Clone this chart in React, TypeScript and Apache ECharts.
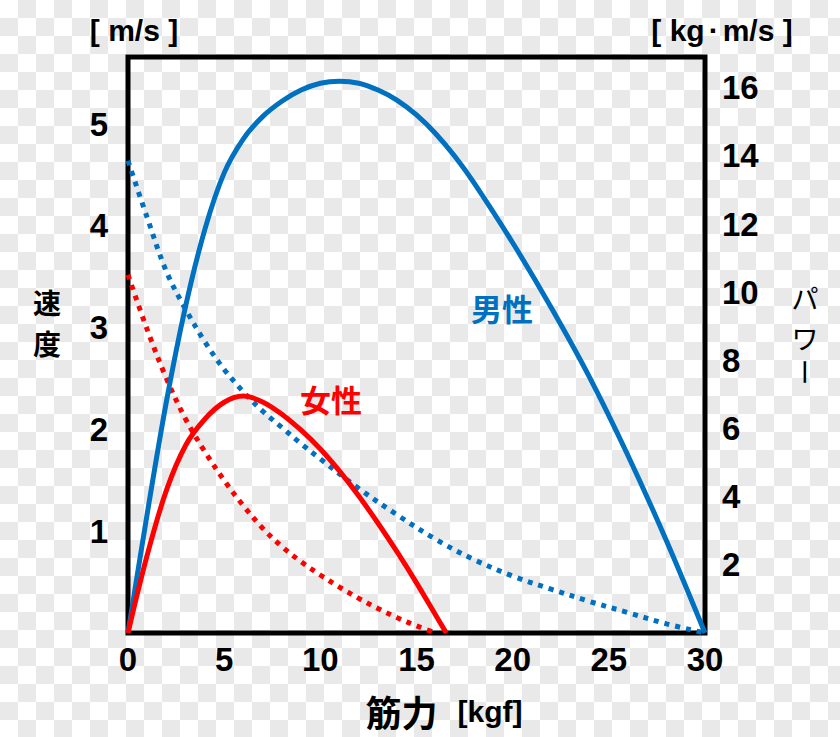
import React, { useEffect, useRef } from "react";
import * as echarts from "echarts";

// x = 筋力 [kgf]
const xTicks = [0, 5, 10, 15, 20, 25, 30];
// 男性 パワー (right axis, kg·m/s)
const malePowerX = [0, 1, 2, 3, 4, 5, 6, 7, 8, 9, 10, 11, 12, 13, 14, 15, 16, 17, 18, 20, 22, 24, 26, 28, 30];
const malePowerY = [0, 3.5, 6.8, 9.6, 11.85, 13.5, 14.5, 15.15, 15.6, 15.93, 16.13, 16.19, 16.13, 15.93, 15.63, 15.2, 14.65, 13.98, 13.2, 11.45, 9.55, 7.5, 5.2, 2.7, 0];
// 男性 速度 (left axis, m/s)
const maleSpeedX = [0, 1, 2, 3, 4, 5, 6, 7, 8, 9, 10, 12, 14, 16, 18, 20, 22, 24, 26, 28, 30];
const maleSpeedY = [4.64, 4.08, 3.55, 3.18, 2.86, 2.59, 2.37, 2.18, 2.02, 1.86, 1.71, 1.42, 1.16, 0.92, 0.72, 0.56, 0.43, 0.31, 0.2, 0.09, 0];
// 女性 パワー
const femalePowerX = [0, 1, 2, 3, 4, 5, 6, 7, 8, 9, 10, 11, 12, 13, 14, 15, 16, 16.55];
const femalePowerY = [0, 2.29, 4.19, 5.51, 6.28, 6.77, 6.95, 6.78, 6.42, 5.95, 5.4, 4.75, 4.02, 3.22, 2.37, 1.47, 0.52, 0];
// 女性 速度
const femaleSpeedX = [0, 1, 2, 3, 4, 5, 6, 7, 8, 9, 10, 11, 12, 13, 14, 15, 16];
const femaleSpeedY = [3.52, 2.98, 2.5, 2.1, 1.78, 1.5, 1.25, 1.03, 0.85, 0.7, 0.57, 0.45, 0.34, 0.24, 0.15, 0.07, 0];

const BLUE = "#0070C0";
const RED = "#FF0000";
const NUM_FONT = "'Liberation Sans', Arial, sans-serif";
const JP_FONT = "'Noto Sans CJK JP', sans-serif";

const zip = (xs: number[], ys: number[]) => xs.map((x, i) => [x, ys[i]]);

const txt = (x: number, y: number, text: string, extra: any = {}, rotation = 0) => ({
  type: "text",
  x,
  y,
  rotation,
  style: {
    text,
    fill: "#000",
    align: "center",
    verticalAlign: "middle",
    ...extra,
  },
});

export default function App() {
  const ref = useRef<HTMLDivElement>(null);

  useEffect(() => {
    document.body.style.margin = "0";
    const chart = echarts.init(ref.current!, null, { renderer: "svg" });
    const axisLabelStyle = {
      fontFamily: NUM_FONT,
      fontWeight: "bold" as const,
      fontSize: 33,
      color: "#000",
    };
    const jpBold = { fontFamily: JP_FONT, fontWeight: "bold" };
    chart.setOption({
      animation: false,
      grid: {
        left: 128,
        right: 135,
        top: 57,
        bottom: 104,
        show: true,
        borderColor: "#000",
        borderWidth: 5,
        backgroundColor: "transparent",
      },
      xAxis: {
        type: "value",
        min: xTicks[0],
        max: xTicks[xTicks.length - 1],
        interval: 5,
        axisLine: { show: false },
        axisTick: { show: false },
        splitLine: { show: false },
        axisLabel: { ...axisLabelStyle, margin: 10 },
      },
      yAxis: [
        {
          type: "value",
          position: "left",
          min: 0,
          max: 5.66,
          interval: 1,
          axisLine: { show: false },
          axisTick: { show: false },
          splitLine: { show: false },
          axisLabel: { ...axisLabelStyle, margin: 20, showMinLabel: false, showMaxLabel: false },
        },
        {
          type: "value",
          position: "right",
          min: 0,
          max: 16.9,
          interval: 2,
          axisLine: { show: false },
          axisTick: { show: false },
          splitLine: { show: false },
          axisLabel: { ...axisLabelStyle, margin: 17, showMinLabel: false, showMaxLabel: false },
        },
      ],
      series: [
        {
          name: "男性 速度",
          type: "line",
          yAxisIndex: 0,
          data: zip(maleSpeedX, maleSpeedY),
          showSymbol: false,
          smooth: 0.35,
          lineStyle: { color: BLUE, width: 5, type: [5, 6], cap: "butt" },
          z: 2,
        },
        {
          name: "女性 速度",
          type: "line",
          yAxisIndex: 0,
          data: zip(femaleSpeedX, femaleSpeedY),
          showSymbol: false,
          smooth: 0.35,
          lineStyle: { color: RED, width: 5, type: [5, 6], cap: "butt" },
          z: 2,
        },
        {
          name: "男性 パワー",
          type: "line",
          yAxisIndex: 1,
          data: zip(malePowerX, malePowerY),
          showSymbol: false,
          smooth: 0.35,
          lineStyle: { color: BLUE, width: 5 },
          z: 3,
        },
        {
          name: "女性 パワー",
          type: "line",
          yAxisIndex: 1,
          data: zip(femalePowerX, femalePowerY),
          showSymbol: false,
          smooth: 0.35,
          lineStyle: { color: RED, width: 5 },
          z: 3,
        },
      ],
      graphic: [
        txt(134, 30, "[ m/s ]", { fontFamily: NUM_FONT, fontWeight: "bold", fontSize: 30 }),
        {
          type: "text",
          x: 722,
          y: 30,
          style: {
            text: "{t|[ kg}{d|·}{t|m/s ]}",
            align: "center",
            verticalAlign: "middle",
            rich: {
              t: { fontFamily: NUM_FONT, fontWeight: "bold", fontSize: 30, fill: "#000" },
              d: { fontFamily: NUM_FONT, fontWeight: "bold", fontSize: 30, fill: "#000", padding: [0, 4] },
            },
          },
        },
        txt(47, 302, "速", { ...jpBold, fontSize: 28 }),
        txt(47, 343, "度", { ...jpBold, fontSize: 28 }),
        txt(805, 297, "パ", { fontFamily: JP_FONT, fontSize: 27 }),
        txt(805, 337, "ワ", { fontFamily: JP_FONT, fontSize: 27 }),
        txt(805, 372, "ー", { fontFamily: JP_FONT, fontSize: 27 }, -Math.PI / 2),
        {
          type: "text",
          x: 444,
          y: 711,
          style: {
            text: "{a|筋力}{b|[kgf]}",
            align: "center",
            verticalAlign: "middle",
            rich: {
              a: { fontFamily: JP_FONT, fontWeight: "bold", fontSize: 36, fill: "#000" },
              b: { fontFamily: NUM_FONT, fontWeight: "bold", fontSize: 30, fill: "#000", padding: [0, 0, 0, 20] },
            },
          },
        },
        txt(502, 307, "男性", { ...jpBold, fontSize: 31, fill: BLUE }),
        txt(331, 398, "女性", { ...jpBold, fontSize: 31, fill: RED }),
      ],
    });
    return () => chart.dispose();
  }, []);

  return (
    <div
      ref={ref}
      style={{
        width: 840,
        height: 737,
        background:
          "repeating-conic-gradient(#e9e9e9 0% 25%, #ffffff 0% 50%) 0 0 / 36px 36px",
      }}
    />
  );
}
